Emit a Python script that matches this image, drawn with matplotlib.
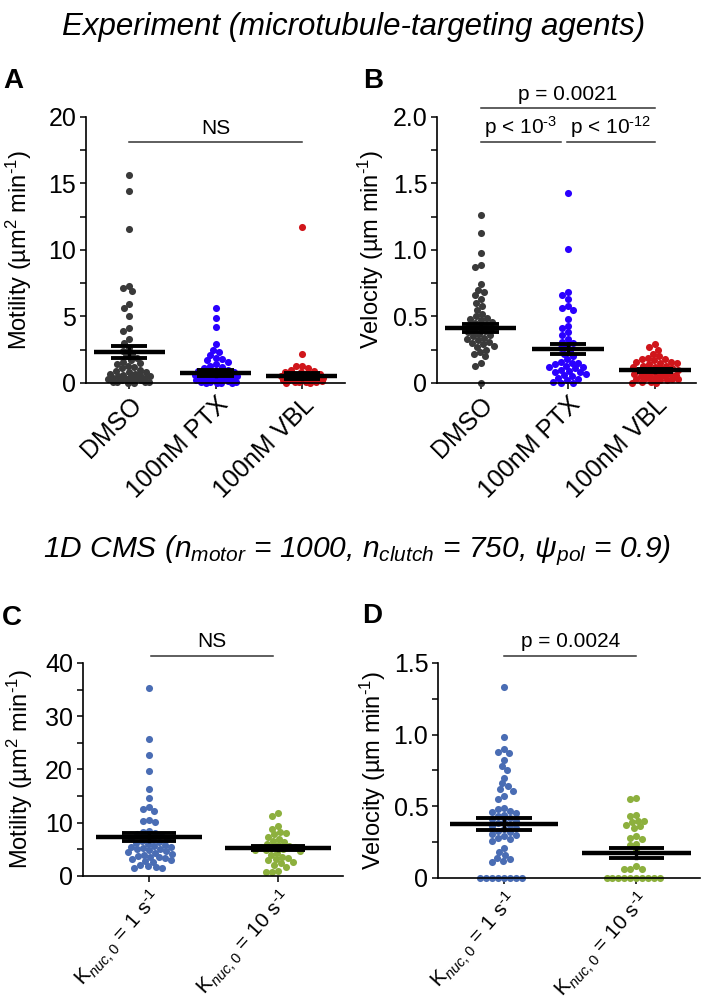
import numpy as np
import matplotlib
matplotlib.use("Agg")
from matplotlib import pyplot as plt
from matplotlib.ticker import MultipleLocator, FuncFormatter

plt.rcParams['font.family'] = ['Liberation Sans', 'DejaVu Sans']
plt.rcParams['mathtext.fontset'] = 'custom'
plt.rcParams['mathtext.rm'] = 'Liberation Sans'
plt.rcParams['mathtext.it'] = 'Liberation Sans:italic'
plt.rcParams['mathtext.bf'] = 'Liberation Sans:bold'

# ---------------- data ----------------
exp_groups = ['DMSO', '100nM PTX', '100nM VBL']
exp_colors = ['#3a3a3a', '#2a00ff', '#d0161b']

mot_dmso = [15.6, 14.4, 11.6, 7.3, 7.1, 6.9, 5.9, 5.6, 5.0, 4.1, 3.9, 3.3, 3.0,
            2.6, 2.4, 2.2, 2.0, 1.9, 1.7, 1.6, 1.5, 1.4, 1.3, 1.2, 1.1, 1.0, 0.9,
            0.8, 0.8, 0.7, 0.7, 0.6, 0.6, 0.5, 0.5, 0.5, 0.4, 0.4, 0.3, 0.3, 0.3,
            0.2, 0.2, 0.2, 0.1, 0.1, 0.1, 0.05, 0.0, 0.0]
mot_ptx = [5.6, 4.9, 4.2, 2.9, 2.5, 2.3, 2.1, 1.9, 1.8, 1.7, 1.6, 1.4, 1.3, 1.2,
           1.1, 1.0, 0.9, 0.9, 0.8, 0.8, 0.7, 0.7, 0.6, 0.6, 0.6, 0.5, 0.5, 0.4,
           0.4, 0.3, 0.3, 0.3, 0.2, 0.2, 0.15, 0.1, 0.1, 0.05, 0.0, 0.0, 0.0, 0.0]
mot_vbl = [11.7, 2.2, 1.3, 1.25, 1.1, 1.0, 0.9, 0.85, 0.8, 0.7, 0.7, 0.6, 0.6,
           0.5, 0.5, 0.5, 0.45, 0.4, 0.4, 0.4, 0.35, 0.3, 0.3, 0.3, 0.25, 0.2,
           0.2, 0.2, 0.15, 0.1, 0.1, 0.05, 0.05, 0.0, 0.0]
mot_means = [2.3, 0.75, 0.52]
mot_sems = [0.45, 0.2, 0.25]

vel_dmso = [1.26, 1.13, 0.98, 0.89, 0.87, 0.74, 0.70, 0.68, 0.66, 0.63, 0.60,
            0.58, 0.55, 0.52, 0.50, 0.49, 0.48, 0.47, 0.46, 0.45, 0.44, 0.43,
            0.42, 0.41, 0.40, 0.39, 0.38, 0.37, 0.36, 0.35, 0.34, 0.33, 0.32,
            0.31, 0.30, 0.29, 0.28, 0.27, 0.25, 0.23, 0.22, 0.20, 0.15, 0.13, 0.0]
vel_ptx = [1.43, 1.01, 0.68, 0.66, 0.63, 0.58, 0.56, 0.55, 0.48, 0.43, 0.41,
           0.38, 0.36, 0.33, 0.31, 0.30, 0.28, 0.26, 0.24, 0.22, 0.20, 0.18,
           0.16, 0.15, 0.15, 0.14, 0.13, 0.12, 0.12, 0.11, 0.10, 0.09, 0.08,
           0.08, 0.07, 0.06, 0.05, 0.04, 0.03, 0.02, 0.01, 0.0, 0.0]
vel_vbl = [0.29, 0.27, 0.25, 0.22, 0.20, 0.19, 0.18, 0.18, 0.17, 0.16, 0.16,
           0.15, 0.15, 0.14, 0.13, 0.13, 0.12, 0.12, 0.11, 0.11, 0.10, 0.10,
           0.09, 0.09, 0.08, 0.08, 0.07, 0.07, 0.06, 0.06, 0.05, 0.05, 0.05,
           0.04, 0.04, 0.03, 0.03, 0.03, 0.02, 0.02, 0.01, 0.01, 0.0, 0.0]
vel_means = [0.41, 0.255, 0.095]
vel_sems = [0.03, 0.04, 0.01]

sim_groups = [r'K$_{nuc,0}$ = 1 s$^{\text{-}1}$',
              r'K$_{nuc,0}$ = 10 s$^{\text{-}1}$']
sim_colors = ['#4a6db4', '#8db03e']

smot_1 = [35.3, 25.7, 22.7, 19.7, 16.3, 14.6, 12.9, 12.6, 12.2, 10.5, 10.3, 10.2,
          8.5, 8.3, 8.0, 7.8, 7.6, 7.4, 7.2, 7.0, 6.8, 6.6, 6.4, 6.2, 6.0, 5.8,
          5.6, 5.5, 5.5, 5.3, 5.1, 5.0, 4.8, 4.6, 4.5, 4.4, 4.2, 4.0, 3.8, 3.6,
          3.5, 3.4, 3.2, 3.0, 2.8, 2.6, 2.0, 1.8, 1.6, 1.5, 1.5]
smot_10 = [11.8, 11.2, 9.4, 8.9, 8.3, 8.1, 7.8, 7.4, 7.0, 6.6, 6.3, 6.0, 5.8,
           5.6, 5.5, 5.4, 5.2, 5.0, 4.9, 4.8, 4.6, 4.4, 4.0, 3.6, 3.3, 3.1,
           3.0, 2.6, 2.4, 2.0, 1.6, 1.0, 0.8, 0.7]
smot_means = [7.3, 5.25]
smot_sems = [0.8, 0.4]

svel_1 = [1.33, 0.98, 0.90, 0.88, 0.87, 0.82, 0.78, 0.75, 0.70, 0.66, 0.64, 0.62,
          0.61, 0.57, 0.55, 0.49, 0.48, 0.47, 0.46, 0.45, 0.44, 0.43, 0.42, 0.41,
          0.40, 0.39, 0.38, 0.37, 0.36, 0.35, 0.34, 0.33, 0.32, 0.31, 0.30, 0.29,
          0.28, 0.27, 0.26, 0.21, 0.18, 0.16, 0.14, 0.13, 0.12, 0.11,
          0.0, 0.0, 0.0, 0.0, 0.0, 0.0, 0.0, 0.0]
svel_10 = [0.56, 0.55, 0.44, 0.43, 0.40, 0.40, 0.39, 0.37, 0.36, 0.35, 0.29, 0.28,
           0.27, 0.24, 0.23, 0.19, 0.08, 0.06, 0.06, 0.06,
           0.0, 0.0, 0.0, 0.0, 0.0, 0.0, 0.0, 0.0, 0.0, 0.0]
svel_means = [0.375, 0.172]
svel_sems = [0.042, 0.035]

W, H = 702, 1005
fig = plt.figure(figsize=(W / 100, H / 100), dpi=100)


def swarm(vals, xs, ys, maxw, d=6.0):
    # beeswarm layout limited to +-maxw (data units); overlaps when crowded
    vals = np.asarray(vals, float)
    order = np.argsort(-vals)
    lim = int(maxw * xs)
    cand = sorted(range(-lim, lim + 1), key=lambda c: (abs(c), c))
    placed = []
    offs = np.zeros(len(vals))
    for i in order:
        y = vals[i] * ys
        near = [(px, py) for px, py in placed if abs(py - y) < d]
        best, bestd = 0, -1.0
        for c in cand:
            md = min([np.hypot(c - px, y - py) for px, py in near] + [99.0])
            if md >= d:
                best = c
                break
            if md > bestd + 0.3:
                best, bestd = c, md
        placed.append((best, y))
        offs[i] = best / xs
    return offs


def panel(rect, groups, data, colors, means, sems, ylim, major, ylabel,
          rot, lab_x, xlim, xfs, maxw):
    ax = fig.add_axes(rect)
    ax.set_xlim(*xlim)
    ax.set_ylim(*ylim)
    xs = rect[2] * W / (xlim[1] - xlim[0])
    ys = rect[3] * H / (ylim[1] - ylim[0])
    for i, (vals, c) in enumerate(zip(data, colors)):
        off = swarm(vals, xs, ys, maxw)
        ax.scatter(i + 1 + off, vals, s=26, color=c, linewidths=0,
                   zorder=2, clip_on=False)
        m, e = means[i], sems[i]
        ax.plot([i + 1 - 0.41, i + 1 + 0.41], [m, m], color='k', lw=3.2,
                solid_capstyle='butt', zorder=3)
        for yy in (m - e, m + e):
            ax.plot([i + 1 - 0.21, i + 1 + 0.21], [yy, yy], color='k', lw=2.8,
                    solid_capstyle='butt', zorder=3)
        ax.plot([i + 1, i + 1], [m - e, m + e], color='k', lw=2.4, zorder=3)
    for s in ('top', 'right'):
        ax.spines[s].set_visible(False)
    for s in ('left', 'bottom'):
        ax.spines[s].set_linewidth(1.2)
    ax.yaxis.set_major_locator(MultipleLocator(major))
    ax.yaxis.set_minor_locator(MultipleLocator(major / 2))
    ax.tick_params(axis='y', which='both', direction='out', length=4,
                   width=1.1, labelsize=18, pad=3)
    ax.tick_params(axis='x', direction='out', length=4, width=1.1, pad=3)
    ax.set_xticks(range(1, len(groups) + 1))
    ax.set_xticklabels(groups, rotation=rot, ha='right', va='top',
                       rotation_mode='anchor', fontsize=xfs)
    ax.set_ylabel(ylabel, fontsize=17)
    ax.yaxis.set_label_coords(lab_x, 0.5)
    return ax


def bracket(ax, x1, x2, y, txt, ty, tx=None):
    ax.plot([x1, x2], [y, y], color='#333333', lw=1.1, clip_on=False)
    if tx is None:
        tx = (x1 + x2) / 2
    ax.text(tx, ty, txt, ha='center', va='baseline', fontsize=15,
            clip_on=False)


dec = FuncFormatter(lambda v, p: '0' if v == 0 else '%.1f' % v)
motl = r'Motility (µm$^{2}$ min$^{\text{-}1}$)'
vell = r'Velocity (µm min$^{\text{-}1}$)'

axA = panel([0.1225, 0.619, 0.369, 0.2647], exp_groups,
            [mot_dmso, mot_ptx, mot_vbl], exp_colors, mot_means, mot_sems,
            (0, 20), 5, motl, 45, -0.20, (0.5, 3.5), 18, 0.25)
bracket(axA, 1.0, 3.0, 18.1, 'NS', 18.75)

axB = panel([0.6225, 0.619, 0.369, 0.2647], exp_groups,
            [vel_dmso, vel_ptx, vel_vbl], exp_colors, vel_means, vel_sems,
            (0, 2.0), 0.5, vell, 45, -0.195, (0.5, 3.47), 18, 0.27)
axB.yaxis.set_major_formatter(dec)
bracket(axB, 1.0, 3.0, 2.07, 'p = 0.0021', 2.13)
bracket(axB, 1.0, 1.92, 1.81, r'p < 10$^{\text{-}3}$', 1.87)
bracket(axB, 1.99, 3.0, 1.81, r'p < 10$^{\text{-}12}$', 1.87)

axC = panel([0.118, 0.1284, 0.370, 0.212], sim_groups,
            [smot_1, smot_10], sim_colors, smot_means, smot_sems,
            (0, 40), 10, motl, 48, -0.185, (0.49, 2.5), 15, 0.3)
bracket(axC, 1.02, 1.96, 41.3, 'NS', 43.0)

axD = panel([0.624, 0.1264, 0.373, 0.214], sim_groups,
            [svel_1, svel_10], sim_colors, svel_means, svel_sems,
            (0, 1.5), 0.5, vell, 48, -0.19, (0.5, 2.48), 15, 0.22)
axD.yaxis.set_major_formatter(dec)
bracket(axD, 1.0, 2.0, 1.55, 'p = 0.0024', 1.61)

# panel letters and section titles
for lx, ly, t in [(3, 88, 'A'), (363, 88, 'B'), (2, 625, 'C'), (362, 623, 'D')]:
    fig.text(lx / W, 1 - ly / H, t, ha='left', va='baseline', fontsize=20,
             fontweight='bold')

fig.text(354 / W, 1 - 35 / H, 'Experiment (microtubule-targeting agents)',
         ha='center', va='baseline', fontsize=22.5, style='italic')
fig.text(357 / W, 1 - 557 / H,
         r'1D CMS ($n_{motor}$ = 1000, $n_{clutch}$ = 750, $\psi_{pol}$ = 0.9)',
         ha='center', va='baseline', fontsize=21.5, style='italic')

fig.savefig('out.png', dpi=100)
